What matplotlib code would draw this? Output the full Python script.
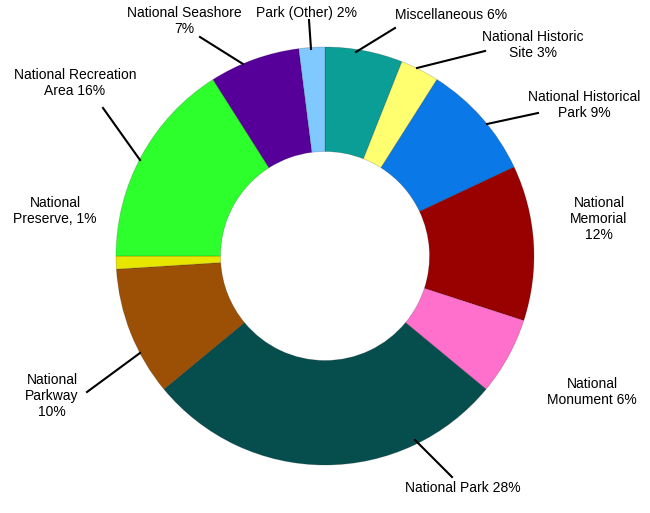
import numpy as np
import matplotlib.pyplot as plt

plt.rcParams['font.family'] = ['Liberation Sans', 'DejaVu Sans']

# unit types, clockwise from 12 o'clock
categories = ['Miscellaneous', 'National Historic Site', 'National Historical Park',
              'National Memorial', 'National Monument', 'National Park',
              'National Parkway', 'National Preserve', 'National Recreation Area',
              'National Seashore', 'Park (Other)']
shares = [6, 3, 9, 12, 6, 28, 10, 1, 16, 7, 2]
labels = ['Miscellaneous 6%', 'National Historic\nSite 3%', 'National Historical\nPark 9%',
          'National\nMemorial\n12%', 'National\nMonument 6%', 'National Park 28%',
          'National\nParkway\n10%', 'National\nPreserve, 1%', 'National Recreation\nArea 16%',
          'National Seashore\n7%', 'Park (Other) 2%']
colors = ['#0A9E96', '#FFFF70', '#0A78E6', '#990000', '#FF70CC', '#064E4E',
          '#9C5005', '#E6E600', '#2DFF2D', '#560099', '#7FC9FF']

# label centres in pixels (x, y from top); leader lines as (from ring, to text)
label_pos = [(451, 15), (533, 45), (584, 105), (599, 219), (592, 392), (463, 488),
             (52, 396), (55, 211), (75, 83), (184, 21), (307, 13)]
leaders = [((356, 52), (395, 28)), ((417, 68), (485, 51)), ((487, 124), (538, 113)),
           None, None, ((415, 440), (452, 477)),
           ((140, 353), (87, 392)), None, ((140, 160), (103, 108)),
           ((243, 64), (200, 37)), ((311, 49), (309, 20))]

W, H = 650, 513
cx, cy, R = 325, H - 256, 209

fig = plt.figure(figsize=(6.5, 5.13), dpi=100)
ax = fig.add_axes([0, 0, 1, 1])
wedges, _ = ax.pie(shares, colors=colors, startangle=90, counterclock=False,
                   radius=R, center=(cx, cy),
                   wedgeprops=dict(width=R * 0.5, edgecolor='#00000030', linewidth=0.6))

for lab, pos, ld in zip(labels, label_pos, leaders):
    ax.text(pos[0], H - pos[1], lab, ha='center', va='center', fontsize=10,
            color='black', linespacing=1.15)
    if ld is not None:
        (x0, y0), (x1, y1) = ld
        ax.plot([x0, x1], [H - y0, H - y1], color='black', lw=1.5)

ax.set_xlim(0, W)
ax.set_ylim(0, H)
ax.set_aspect('equal')
ax.axis('off')
fig.savefig('out.png', dpi=100)
